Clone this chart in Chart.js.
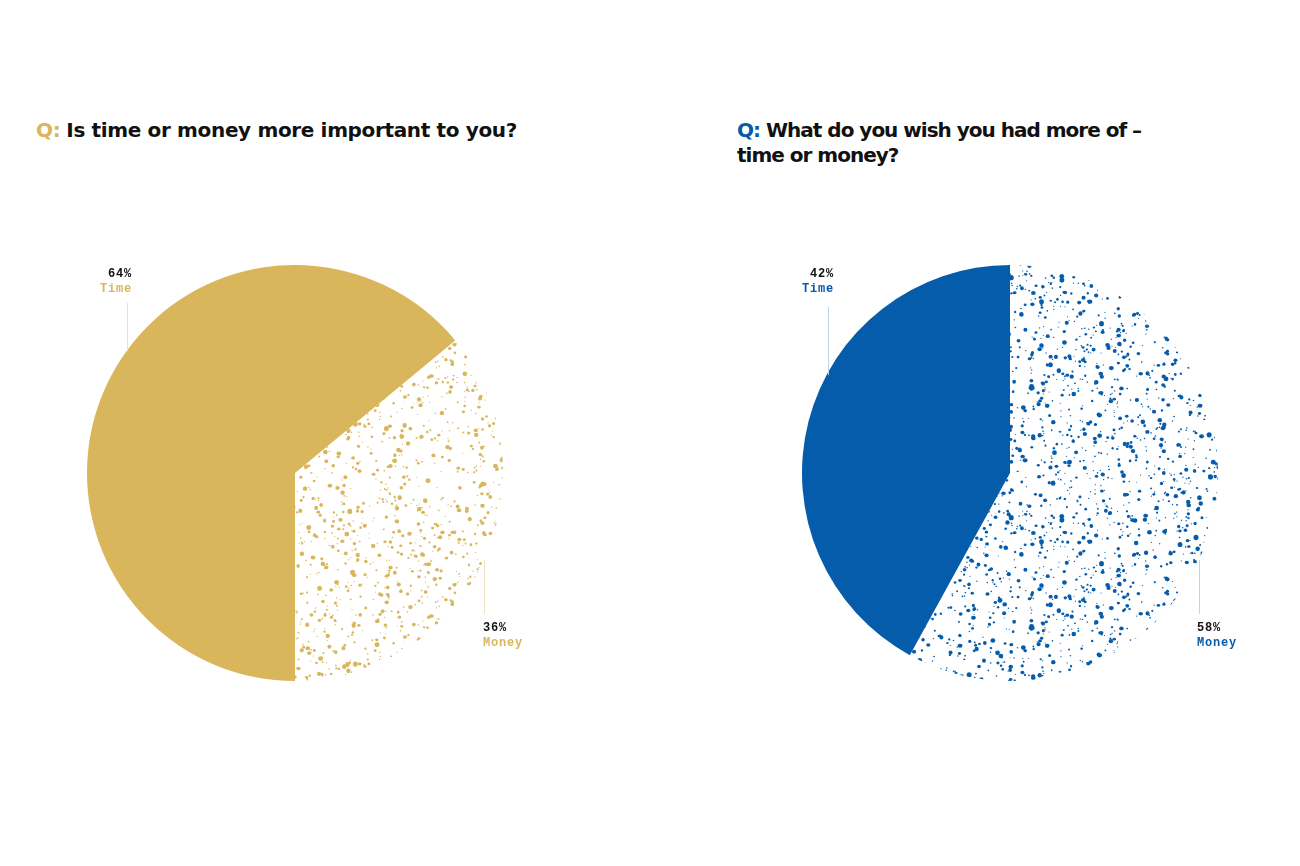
<!DOCTYPE html>
<html><head><meta charset="utf-8">
<script src="https://cdn.jsdelivr.net/npm/chart.js@4/dist/chart.umd.min.js"></script>
<style>
html,body{margin:0;padding:0;background:#fff;width:1300px;height:866px;overflow:hidden}
.t{position:absolute;font-family:"DejaVu Sans",sans-serif;font-weight:bold;font-size:20px;line-height:27px;color:#111;white-space:nowrap;letter-spacing:-0.35px}
.q{margin-right:6px}
.box{position:absolute;width:416px;height:416px;top:265px}
.lab{position:absolute;font-family:"Liberation Mono","DejaVu Sans Mono",monospace;font-weight:bold;font-size:12px;line-height:15px;letter-spacing:0.8px;white-space:nowrap}
.lab .p{color:#111}
.r{text-align:right}
.lead{position:absolute;width:1px}
</style></head><body>
<div class="t" style="left:36px;top:117px"><span class="q" style="color:#D9B65C">Q:</span>Is time or money more important to you?</div>
<div class="t" style="left:737px;top:118px;line-height:25px;letter-spacing:-1px"><span class="q" style="color:#055CAB">Q:</span>What do you wish you had more of –<br>time or money?</div>
<div class="box" style="left:87px"><canvas id="c1" width="416" height="416"></canvas></div>
<div class="box" style="left:802px"><canvas id="c2" width="416" height="416"></canvas></div>

<div class="lab r" style="left:82px;top:267px;width:50px"><div class="p">64%</div><div style="color:#D9B65C">Time</div></div>
<div class="lead" style="left:127px;top:303px;height:48px;background:#EFE3C2"></div>
<div class="lab" style="left:483px;top:621px;width:60px"><div class="p">36%</div><div style="color:#D9B65C">Money</div></div>
<div class="lead" style="left:484px;top:560px;height:54px;background:#EFE3C2"></div>

<div class="lab r" style="left:784px;top:267px;width:50px"><div class="p">42%</div><div style="color:#055CAB">Time</div></div>
<div class="lead" style="left:828px;top:307px;height:68px;background:#C2D4E8"></div>
<div class="lab" style="left:1197px;top:621px;width:60px"><div class="p">58%</div><div style="color:#055CAB">Money</div></div>
<div class="lead" style="left:1199px;top:560px;height:54px;background:#C2D4E8"></div>

<script>
const labels1 = ["Money", "Time"];
const values1 = [36, 64];
const labels2 = ["Money", "Time"];
const values2 = [58, 42];
const gold = "#D9B65C";
const blue = "#055CAB";

function speckle(color, seed, density) {
  const s = 240;
  const c = document.createElement("canvas");
  c.width = s; c.height = s;
  const x = c.getContext("2d");
  x.fillStyle = "#fff"; x.fillRect(0, 0, s, s);
  let st = seed;
  const rnd = () => { st = (st * 1103515245 + 12345) & 0x7fffffff; return st / 0x7fffffff; };
  x.fillStyle = color;
  for (let i = 0; i < density; i++) {
    const px = rnd() * s, py = rnd() * s;
    const u = rnd();
    const r = 0.6 + u * u * 1.9;
    const e = 0.8 + rnd() * 0.3;
    for (const dx of [-s, 0, s]) for (const dy of [-s, 0, s]) {
      x.beginPath();
      x.ellipse(px + dx, py + dy, r, r * e, 0, 0, Math.PI * 2);
      x.fill();
    }
  }
  return x.createPattern(c, "repeat");
}

function pie(id, labels, values, colors, rotation) {
  new Chart(document.getElementById(id), {
    type: "pie",
    data: { labels, datasets: [{ data: values, backgroundColor: colors, borderWidth: 0 }] },
    options: {
      responsive: false, animation: false, events: [],
      rotation,
      layout: { padding: 0 },
      plugins: { legend: { display: false }, tooltip: { enabled: false } }
    }
  });
}
pie("c1", labels1, values1, [speckle(gold, 7, 950), gold], 50.4);
pie("c2", labels2, values2, [speckle(blue, 13, 1050), blue], 0);
</script>
</body></html>
